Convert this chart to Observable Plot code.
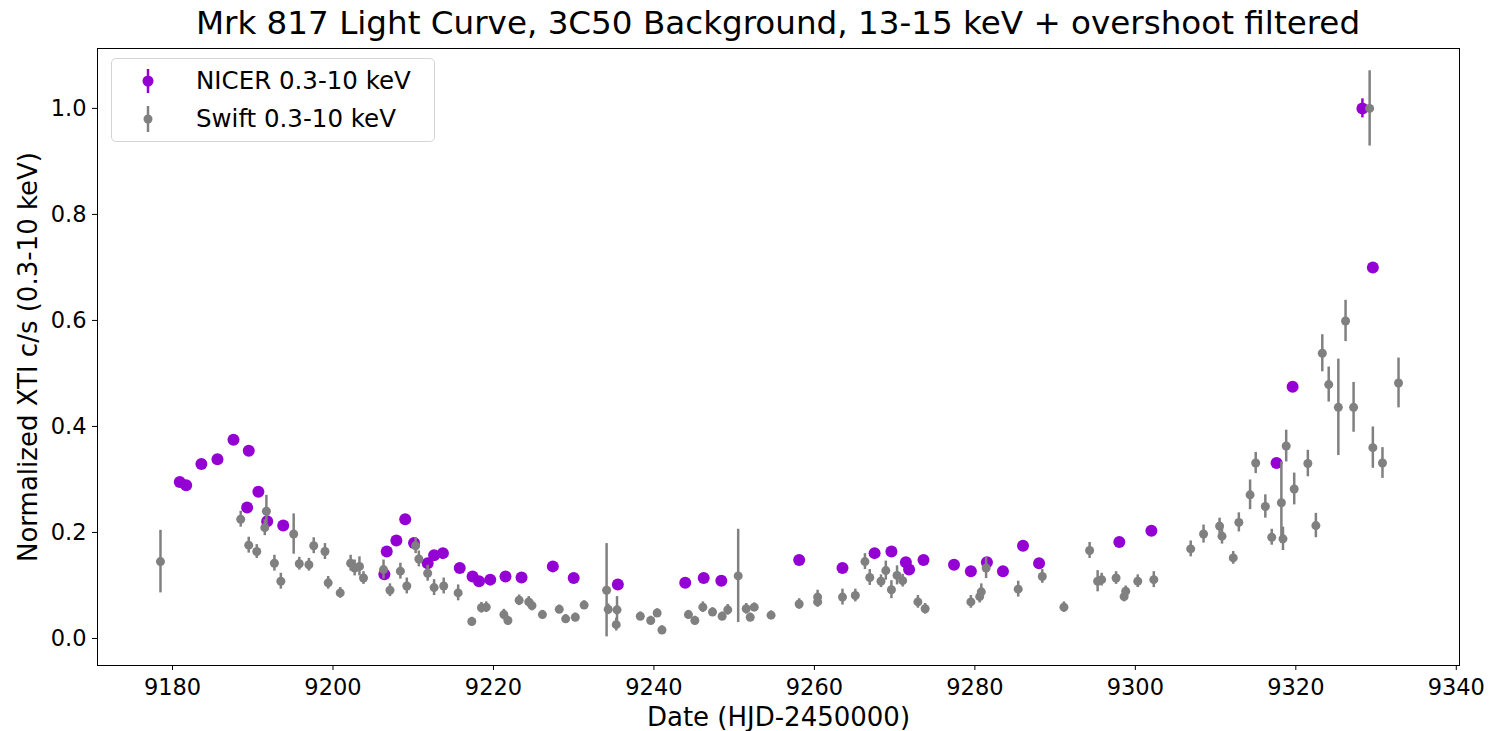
<!DOCTYPE html>
<html><head><meta charset="utf-8">
<script src="https://cdn.jsdelivr.net/npm/d3@7"></script>
<script src="https://cdn.jsdelivr.net/npm/@observablehq/plot@0.6"></script>
<style>
body{margin:0;background:#fff;font-family:"DejaVu Sans",sans-serif;}
#wrap{position:relative;width:1490px;height:731px;overflow:hidden;}
#title{height:44px;line-height:46px;font-size:32.6px;text-align:center;width:1362px;margin-left:97px;color:#000;white-space:nowrap;}
#legend{position:absolute;left:111px;top:58px;width:322px;height:82px;border:1px solid #d4d4d4;border-radius:5px;background:rgba(255,255,255,0.85);font-size:24.5px;color:#000;}
#legend .row{position:absolute;left:0;height:36px;line-height:36px;width:100%;}
#legend svg{position:absolute;left:22px;top:0;}
#legend span{position:absolute;left:84px;top:0;white-space:nowrap;}
</style>
</head><body>
<div id="wrap">
<div id="title"></div>
<div id="chart"></div>
<div id="legend"></div>
</div>
<script>
// ---- data ----
const titleText = "Mrk 817 Light Curve, 3C50 Background, 13-15 keV + overshoot filtered";
const xLabel = "Date (HJD-2450000)";
const yLabel = "Normalized XTI c/s (0.3-10 keV)";
const seriesNames = ["NICER 0.3-10 keV", "Swift 0.3-10 keV"];
const seriesColors = ["#9400d3", "#808080"];
const xTicks = [9180, 9200, 9220, 9240, 9260, 9280, 9300, 9320, 9340];
const yTicks = [0.0, 0.2, 0.4, 0.6, 0.8, 1.0];

const nicerDate = [9180.9, 9181.7, 9183.6, 9185.6, 9187.6, 9189.3, 9189.5, 9190.7, 9191.8, 9193.8,
  9206.4, 9206.7, 9207.9, 9209.0, 9210.1, 9211.8, 9212.6, 9213.7, 9215.8, 9217.4,
  9218.2, 9219.6, 9221.5, 9223.5, 9227.4, 9230.0, 9235.5, 9243.9, 9246.2, 9248.4,
  9258.1, 9263.5, 9267.5, 9269.6, 9271.4, 9271.8, 9273.6, 9277.4, 9279.5, 9281.5,
  9283.5, 9286.0, 9288.0, 9298.0, 9302.0, 9317.6, 9319.6, 9328.3, 9329.6];
const nicerRate = [0.295, 0.289, 0.329, 0.338, 0.375, 0.247, 0.354, 0.277, 0.221, 0.213,
  0.121, 0.164, 0.185, 0.225, 0.180, 0.142, 0.157, 0.161, 0.133, 0.117,
  0.108, 0.111, 0.117, 0.115, 0.136, 0.114, 0.102, 0.105, 0.114, 0.109,
  0.148, 0.133, 0.161, 0.164, 0.144, 0.130, 0.148, 0.139, 0.127, 0.144,
  0.127, 0.175, 0.142, 0.182, 0.203, 0.331, 0.475, 1.000, 0.700];
const nicerErr = [0.004, 0.004, 0.004, 0.004, 0.004, 0.004, 0.004, 0.004, 0.004, 0.004,
  0.004, 0.004, 0.004, 0.004, 0.004, 0.004, 0.004, 0.004, 0.004, 0.004,
  0.004, 0.004, 0.004, 0.004, 0.004, 0.004, 0.004, 0.004, 0.004, 0.004,
  0.004, 0.004, 0.004, 0.004, 0.004, 0.004, 0.004, 0.004, 0.004, 0.004,
  0.004, 0.004, 0.004, 0.004, 0.004, 0.005, 0.006, 0.018, 0.008];

const swiftDate = [9178.5, 9188.5, 9189.5, 9190.5, 9191.5, 9191.7, 9192.7, 9193.5, 9195.1, 9195.8,
  9197.0, 9197.6, 9199.0, 9199.4, 9200.9, 9202.2, 9202.7, 9203.3, 9203.8, 9206.3,
  9207.1, 9208.4, 9209.2, 9210.3, 9210.7, 9211.8, 9212.6, 9213.8, 9215.6, 9217.3,
  9218.5, 9219.1, 9221.3, 9221.8, 9223.2, 9224.4, 9224.8, 9226.1, 9228.2, 9229.0,
  9230.2, 9231.3, 9234.1, 9234.3, 9235.4, 9235.3, 9238.3, 9239.6, 9240.4, 9241.0,
  9244.3, 9245.1, 9246.1, 9247.3, 9248.5, 9249.2, 9250.5, 9251.5, 9252.0, 9252.5,
  9254.6, 9258.1, 9260.4, 9260.4, 9263.5, 9265.1, 9266.3, 9266.9, 9268.3, 9268.9,
  9269.6, 9270.3, 9271.0, 9272.9, 9273.8, 9279.5, 9280.6, 9280.8, 9281.4, 9285.4,
  9288.4, 9291.1, 9294.3, 9295.3, 9295.8, 9297.6, 9298.6, 9298.8, 9300.3, 9302.3,
  9306.9, 9308.5, 9310.5, 9310.8, 9312.2, 9312.9, 9314.3, 9315.0, 9316.2, 9317.0,
  9318.2, 9318.4, 9318.8, 9319.8, 9321.5, 9322.5, 9323.3, 9324.1, 9325.3, 9326.2,
  9327.2, 9329.2, 9329.6, 9330.8, 9332.8];
const swiftRate = [0.145, 0.225, 0.176, 0.164, 0.209, 0.240, 0.142, 0.108, 0.197, 0.141,
  0.139, 0.175, 0.164, 0.105, 0.086, 0.142, 0.133, 0.136, 0.114, 0.130,
  0.091, 0.127, 0.099, 0.175, 0.150, 0.123, 0.096, 0.099, 0.086, 0.032,
  0.058, 0.059, 0.045, 0.034, 0.072, 0.069, 0.062, 0.045, 0.055, 0.037,
  0.040, 0.063, 0.091, 0.055, 0.054, 0.026, 0.042, 0.034, 0.048, 0.016,
  0.045, 0.034, 0.059, 0.050, 0.042, 0.054, 0.118, 0.056, 0.040, 0.059,
  0.044, 0.065, 0.078, 0.069, 0.078, 0.081, 0.145, 0.115, 0.108, 0.128,
  0.092, 0.119, 0.109, 0.069, 0.056, 0.069, 0.079, 0.088, 0.133, 0.093,
  0.117, 0.059, 0.166, 0.108, 0.111, 0.114, 0.079, 0.089, 0.108, 0.111,
  0.169, 0.197, 0.212, 0.193, 0.152, 0.219, 0.271, 0.331, 0.249, 0.191,
  0.256, 0.188, 0.363, 0.282, 0.330, 0.213, 0.538, 0.479, 0.436, 0.599,
  0.436, 1.000, 0.360, 0.331, 0.482];
const swiftErr = [0.059, 0.015, 0.015, 0.013, 0.015, 0.030, 0.015, 0.015, 0.038, 0.012,
  0.012, 0.015, 0.015, 0.012, 0.010, 0.015, 0.015, 0.018, 0.012, 0.018,
  0.012, 0.015, 0.015, 0.015, 0.015, 0.015, 0.015, 0.015, 0.015, 0.008,
  0.010, 0.010, 0.010, 0.008, 0.010, 0.010, 0.010, 0.008, 0.008, 0.008,
  0.008, 0.008, 0.088, 0.010, 0.025, 0.012, 0.008, 0.008, 0.008, 0.008,
  0.008, 0.008, 0.010, 0.008, 0.008, 0.010, 0.088, 0.010, 0.008, 0.008,
  0.008, 0.010, 0.013, 0.010, 0.015, 0.012, 0.015, 0.015, 0.012, 0.018,
  0.017, 0.018, 0.012, 0.012, 0.010, 0.012, 0.012, 0.015, 0.020, 0.015,
  0.013, 0.010, 0.015, 0.020, 0.012, 0.012, 0.010, 0.010, 0.012, 0.015,
  0.015, 0.017, 0.015, 0.015, 0.012, 0.018, 0.028, 0.020, 0.022, 0.015,
  0.077, 0.022, 0.030, 0.030, 0.025, 0.023, 0.035, 0.033, 0.091, 0.039,
  0.047, 0.071, 0.039, 0.029, 0.047];

// ---- build tables ----
const nicer = nicerDate.map((d, i) => ({date: d, rate: nicerRate[i], err: nicerErr[i]}));
const swift = swiftDate.map((d, i) => ({date: d, rate: swiftRate[i], err: swiftErr[i]}));

document.getElementById("title").textContent = titleText;

const chart = Plot.plot({
  width: 1490,
  height: 687,
  marginTop: 4,
  marginBottom: 66,
  marginLeft: 97,
  marginRight: 31,
  style: {fontFamily: "DejaVu Sans", fontSize: "22.5px", color: "#000", background: "#fff"},
  x: {domain: [9170.65, 9340.4]},
  y: {domain: [-0.051, 1.113]},
  marks: [
    Plot.axisX({ticks: xTicks, tickSize: 5, tickPadding: 9, tickFormat: d => String(d), label: null}),
    Plot.axisX({ticks: [], label: xLabel, labelAnchor: "center", labelOffset: 60, labelArrow: "none", fontSize: 26}),
    Plot.axisY({ticks: yTicks, tickSize: 5, tickPadding: 6, tickFormat: d => d.toFixed(1), label: null}),
    Plot.axisY({ticks: [], label: yLabel, labelAnchor: "center", labelOffset: 79, labelArrow: "none", fontSize: 26}),
    Plot.ruleX(nicer, {x: "date", y1: d => d.rate - d.err, y2: d => d.rate + d.err, stroke: seriesColors[0], strokeWidth: 2.5}),
    Plot.dot(nicer, {x: "date", y: "rate", r: 6, fill: seriesColors[0], stroke: "none"}),
    Plot.ruleX(swift, {x: "date", y1: d => d.rate - d.err, y2: d => d.rate + d.err, stroke: seriesColors[1], strokeWidth: 2.5}),
    Plot.dot(swift, {x: "date", y: "rate", r: 4.5, fill: seriesColors[1], stroke: "none"}),
    Plot.frame({stroke: "#000", strokeWidth: 1})
  ]
});
document.getElementById("chart").appendChild(chart);

// ---- legend ----
const legend = document.getElementById("legend");
const iconSpec = [{r: 5.5, half: 12}, {r: 4.5, half: 13}];
seriesNames.forEach((name, i) => {
  const row = document.createElement("div");
  row.className = "row";
  row.style.top = (i === 0 ? 4 : 42) + "px";
  const s = iconSpec[i];
  row.innerHTML = `<svg width="28" height="36" viewBox="0 0 28 36">
    <line x1="14" x2="14" y1="${18 - s.half}" y2="${18 + s.half}" stroke="${seriesColors[i]}" stroke-width="2.5"/>
    <circle cx="14" cy="18" r="${s.r}" fill="${seriesColors[i]}"/></svg><span>${name}</span>`;
  legend.appendChild(row);
});
</script>
</body></html>
